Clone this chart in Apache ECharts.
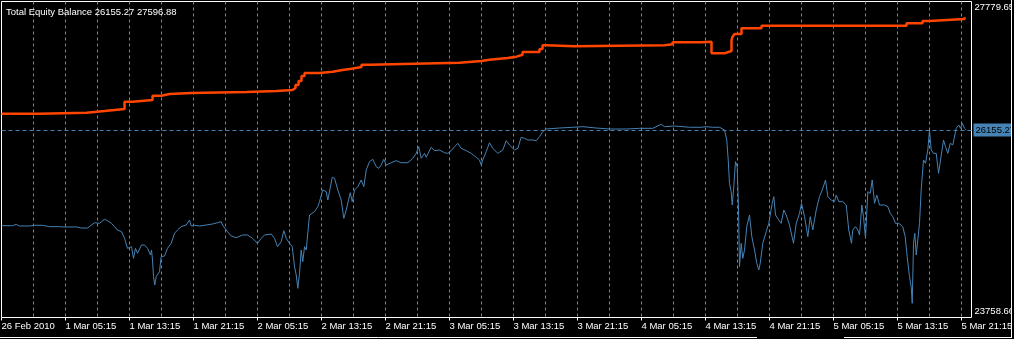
<!DOCTYPE html>
<html><head><meta charset="utf-8">
<script src="https://cdn.jsdelivr.net/npm/echarts@6/dist/echarts.min.js"></script>
<style>html,body{margin:0;padding:0;background:#000;overflow:hidden}#c{width:1014px;height:339px}</style>
</head><body><div id="c"></div>
<script>
const titleText = 'Total Equity Balance 26155.27 27596.88';
const tickLabels = ['26 Feb 2010','1 Mar 05:15','1 Mar 13:15','1 Mar 21:15','2 Mar 05:15','2 Mar 13:15','2 Mar 21:15','3 Mar 05:15','3 Mar 13:15','3 Mar 21:15','4 Mar 05:15','4 Mar 13:15','4 Mar 21:15','5 Mar 05:15','5 Mar 13:15','5 Mar 21:15'];
const tickHours = [0,8,16,24,32,40,48,56,64,72,80,88,96,104,112,120];
const priceLabels = [23758.66, 27779.65];
const currentEquity = 26155.27;

const equityHours = [0,1.38,1.84,2.25,3.5,4.13,5.13,6,7.25,7.5,7.75,9.38,10,10.75,11,11.63,12.25,12.88,13.25,13.75,14.13,14.5,15,15.38,15.75,16,16.25,16.5,16.75,17,17.5,17.88,18.25,18.63,18.75,18.88,19,19.16,19.34,19.5,19.75,19.96,20.38,20.75,21.21,21.63,22,22.46,23.09,23.5,23.71,24.13,24.75,25.59,26.38,27,27.46,27.63,28.25,28.71,29.34,30.13,30.75,31.38,32,32.46,32.88,33.71,34.13,34.5,34.96,35.29,35.59,36,36.34,36.63,36.84,37.04,37.25,37.46,37.66,37.88,38.09,38.5,39.13,39.54,39.75,40.16,40.59,40.79,41.34,41.63,42.04,42.46,42.79,43.09,43.59,43.84,44.13,44.54,44.96,45.29,45.59,46,46.41,46.84,47.16,47.46,47.79,48.09,48.71,49.34,49.96,50.79,51.41,51.84,52.16,52.46,52.88,53.09,53.71,54.13,54.75,55.38,55.79,56.21,56.63,57.04,57.46,58.09,58.71,59.34,59.75,59.96,60.16,60.59,61,61.41,62.04,62.66,63.09,63.5,64.13,64.54,64.96,65.38,65.79,66.41,66.84,67.25,67.66,68.09,69.75,71.41,72.66,74.34,76,78.09,79.75,81.41,82.46,82.88,84.13,86,87.46,88.09,88.91,89.75,90.38,90.66,90.84,91,91.21,91.34,91.5,91.75,91.96,92.13,92.25,92.46,92.66,92.88,93.16,93.5,93.79,94.13,94.41,94.66,94.84,95.16,95.59,95.91,96.34,96.54,96.75,97.16,97.46,97.79,98.09,98.5,99,99.34,99.75,100,100.38,100.79,101.09,101.41,101.84,102.25,102.59,103,103.29,103.71,104.13,104.34,104.66,105.16,105.59,105.91,106.25,106.41,106.75,107.04,107.25,107.54,107.75,108,108.29,108.59,108.84,109.13,109.41,109.75,110.38,110.79,111.09,111.41,111.75,112.16,112.66,112.96,113.21,113.5,113.71,113.84,114,114.16,114.34,114.54,114.75,114.96,115.25,115.5,115.79,116,116.21,116.5,116.84,117.13,117.38,117.75,118,118.29,118.59,118.91,119.34,119.66,119.88,120.09,120.38,120.59];
const equityValues = [24892,24892,24910,24888,24888,24897,24897,24879,24879,24861,24875,24875,24861,24861,24879,24931,24923,24976,24958,24923,24879,24835,24813,24725,24593,24615,24615,24461,24593,24527,24637,24637,24593,24505,24571,24439,24219,24109,24219,24197,24285,24483,24492,24593,24659,24791,24835,24879,24901,24967,24888,24897,24888,24901,24914,24931,24945,24901,24813,24756,24733,24769,24769,24725,24659,24725,24769,24782,24725,24615,24681,24826,24725,24659,24615,24351,24241,24065,24263,24571,24417,24615,24571,25033,25077,25143,25209,25363,25341,25231,25531,25517,25363,25231,24989,25099,25327,25209,25363,25407,25495,25407,25627,25737,25768,25671,25649,25693,25768,25693,25723,25750,25723,25723,25781,25847,25935,25781,25847,25795,25927,25882,25891,25855,25847,25882,25935,25979,25913,25882,25847,25795,25759,25693,25759,25869,25987,25913,25847,25891,26014,25957,25891,25913,26059,26045,26023,26023,26014,26067,26133,26168,26181,26191,26199,26181,26168,26168,26177,26177,26230,26199,26208,26191,26191,26199,26191,26191,26155,26023,25759,25451,25341,25165,25363,25737,25671,25099,24351,24659,24461,24571,24879,25033,24747,24571,24395,24307,24395,24659,24813,24923,25187,25275,25033,24967,24923,25099,25033,24901,24659,24923,25055,25187,25011,24747,25011,24835,25099,25275,25363,25495,25275,25231,25209,25297,25209,25209,25165,24835,24659,24835,24879,24835,24769,25165,25011,24725,25341,25319,25495,25187,25297,25165,25165,25143,25055,25011,24923,24923,24879,24747,24483,24219,24087,23867,24659,24791,24505,24505,24923,25363,25759,25715,25891,26155,25891,25847,25847,25583,25759,26023,25935,25847,25979,25957,26177,26221,26177,26243,26177,26155];

const balanceHours = [0,4.75,10.63,12.88,14.13,15.38,16.38,18.88,20,21,23.75,30.63,34.38,36.38,36.75,37.13,37.5,37.88,39.75,41.38,42.63,43.75,45,46,57.25,60,61,63.25,64.38,65.13,67.25,67.63,68.13,71.63,82.88,83.88,87.5,88.75,90.38,90.75,91.25,91.38,91.63,92.5,95,113.13,115.13,116,120.38];
const balanceValues = [26370,26383,26406,26419,26432,26529,26551,26608,26630,26643,26657,26670,26683,26709,26749,26802,26868,26907,26925,26947,26964,26987,27017,27043,27066,27083,27105,27123,27149,27185,27224,27273,27260,27273,27286,27313,27321,27167,27181,27198,27343,27387,27422,27497,27532,27563,27594,27620,27643];

const FONT = '"Liberation Sans", Arial, sans-serif';
const FS = 9.5;
const equityData = equityHours.map((h, i) => [h, equityValues[i]]);
const balanceData = balanceHours.map((h, i) => [h, balanceValues[i]]);

const chart = echarts.init(document.getElementById('c'), null, {renderer: 'canvas'});
chart.setOption({
  animation: false,
  backgroundColor: '#000',
  title: {
    text: titleText, left: 1, top: 2,
    textStyle: {color: '#fff', fontSize: FS, fontWeight: 'normal', fontFamily: FONT}
  },
  grid: {left: 1.5, top: 1.5, right: 42.5, bottom: 21.5, show: true, borderColor: '#fff', borderWidth: 1,
    backgroundColor: '#000', containLabel: false, outerBoundsMode: 'none'},
  xAxis: [{
    type: 'value', min: 0, max: 121.25,
    axisLine: {show: false},
    splitLine: {show: false},
    axisTick: {show: true, length: 3, customValues: tickHours, lineStyle: {color: '#fff'}},
    axisLabel: {
      customValues: tickHours, color: '#fff', fontSize: FS, fontFamily: FONT, align: 'left', margin: 4,
      formatter: v => tickLabels[Math.round(v / 8)]
    }
  }, {
    type: 'value', min: 0, max: 121.25, interval: 4,
    axisLine: {show: false}, axisTick: {show: false}, axisLabel: {show: false},
    splitLine: {show: true, showMinLine: false, showMaxLine: false, lineStyle: {color: '#778899', type: [3, 3], width: 1}}
  }],
  yAxis: {
    type: 'value', position: 'right', min: 23680, max: 27851.2, scale: true,
    axisLine: {show: false}, axisTick: {show: false}, splitLine: {show: false},
    axisLabel: {customValues: priceLabels, color: '#fff', fontSize: FS, fontFamily: FONT, margin: 3,
      formatter: v => v.toFixed(2)}
  },
  series: [{
    name: 'Balance', type: 'line', data: balanceData, step: 'end', showSymbol: false, symbol: 'none',
    lineStyle: {color: '#FF4500', width: 2.5}, z: 3
  }, {
    name: 'Equity', type: 'line', data: equityData, showSymbol: false, symbol: 'none',
    lineStyle: {color: '#4682B4', width: 1}, z: 4,
    markLine: {
      silent: true, symbol: 'none', animation: false,
      lineStyle: {color: '#4682B4', type: [4, 3], width: 1},
      label: {show: true, position: 'end', distance: 2, formatter: currentEquity.toFixed(2),
        color: '#000', backgroundColor: '#4682B4', padding: [2, 2, 1, 2], fontSize: FS, fontFamily: FONT},
      data: [{yAxis: currentEquity}]
    }
  }],
  graphic: [
    {type: 'rect', shape: {x: 1012, y: 0, width: 2, height: 339}, style: {fill: '#000'}, z: 100},
    {type: 'line', shape: {x1: 1011.5, y1: 0, x2: 1011.5, y2: 338}, style: {stroke: '#fff', lineWidth: 1}, z: 101},
    {type: 'line', shape: {x1: 0, y1: 337.5, x2: 757, y2: 337.5}, style: {stroke: '#fff', lineWidth: 1}, z: 101},
    {type: 'line', shape: {x1: 844, y1: 337.5, x2: 1012, y2: 337.5}, style: {stroke: '#fff', lineWidth: 1}, z: 101}
  ]
});
</script></body></html>
